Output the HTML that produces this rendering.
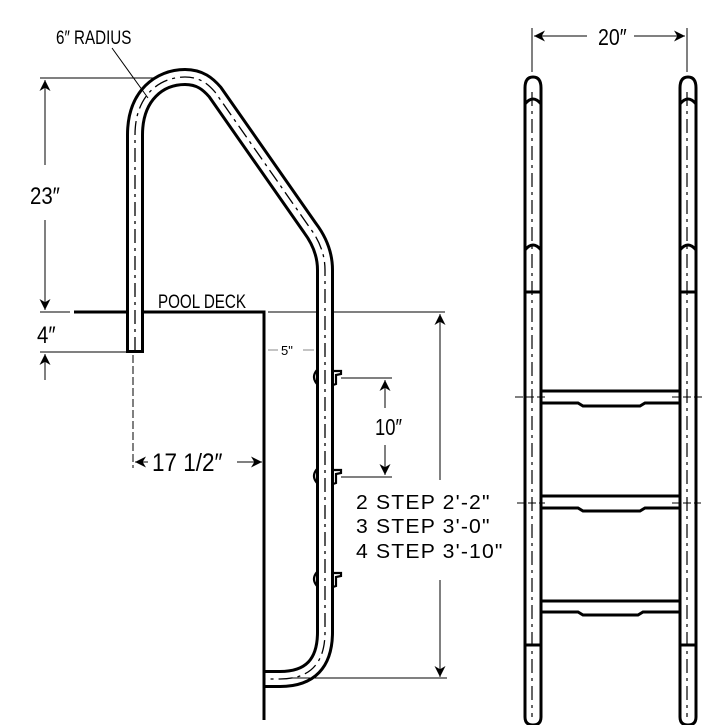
<!DOCTYPE html>
<html><head><meta charset="utf-8"><style>
html,body{margin:0;padding:0;background:#fff;}
svg{display:block;}
.t{font-family:"Liberation Sans",sans-serif;fill:#000;}
</style></head><body>
<svg width="720" height="725" viewBox="0 0 720 725" xmlns="http://www.w3.org/2000/svg">
<defs>
<marker id="a" viewBox="0 0 10 10" refX="10" refY="5" markerWidth="11" markerHeight="11" markerUnits="userSpaceOnUse" orient="auto-start-reverse">
<path d="M0,0 L10,5 L0,10 L3,5 z" fill="#000"/></marker>
</defs>
<g fill="none" stroke="#000">
<path d="M74,312 L264,312 L264,720" stroke-width="3"/>
<line x1="268" y1="312" x2="445" y2="312" stroke-width="1"/>
<path d="M135,351 L135,135 C135,95 160,77 185,77 C200,77 208,84 215,92 L310,228 Q325,248 325,270 L325,632 Q325,679 280,679 L265,679" stroke-width="18" stroke-linejoin="round"/>
<path d="M135,351 L135,135 C135,95 160,77 185,77 C200,77 208,84 215,92 L310,228 Q325,248 325,270 L325,632 Q325,679 280,679 L265,679" stroke="#fff" stroke-width="12" stroke-linejoin="round"/>
<path d="M135,351 L135,135 C135,95 160,77 185,77 C200,77 208,84 215,92 L310,228 Q325,248 325,270 L325,632 Q325,679 280,679 L265,679" stroke-width="1.3" stroke-dasharray="14,5,3,5"/>
<line x1="126" y1="351.5" x2="144" y2="351.5" stroke-width="3"/>
<line x1="264" y1="312" x2="264" y2="720" stroke-width="3"/>
<line x1="112" y1="48" x2="148" y2="98" stroke-width="1"/>
<g stroke-width="2.2">
<path d="M317,370 Q311,377 317,384"/><path d="M333,371 L341,371 L341,374 L336,375 L336,384 L333,385"/>
<path d="M317,469 Q311,476 317,483"/><path d="M333,470 L341,470 L341,473 L336,474 L336,483 L333,484"/>
<path d="M317,572 Q311,579 317,586"/><path d="M333,573 L341,573 L341,576 L336,577 L336,586 L333,587"/>
</g>
<g stroke-width="1">
<line x1="40" y1="78" x2="155" y2="78"/>
<line x1="40" y1="312" x2="70" y2="312"/>
<line x1="40" y1="352" x2="128" y2="352"/>
<line x1="45" y1="80" x2="45" y2="165" marker-start="url(#a)"/>
<line x1="45" y1="220" x2="45" y2="310" marker-end="url(#a)"/>
<line x1="45" y1="380" x2="45" y2="354" marker-end="url(#a)"/>
<line x1="133" y1="355" x2="133" y2="468" stroke-dasharray="8,3"/>
<line x1="135" y1="462" x2="148" y2="462" marker-start="url(#a)"/>
<line x1="237" y1="462" x2="262" y2="462" marker-end="url(#a)"/>
<line x1="268" y1="350" x2="278" y2="350" stroke="#888"/>
<line x1="303" y1="350" x2="314" y2="350" stroke="#888"/>
<line x1="341" y1="378" x2="392" y2="378"/>
<line x1="341" y1="477" x2="392" y2="477"/>
<line x1="385" y1="380" x2="385" y2="408" marker-start="url(#a)"/>
<line x1="385" y1="445" x2="385" y2="475" marker-end="url(#a)"/>
<line x1="440" y1="314" x2="440" y2="480" marker-start="url(#a)"/>
<line x1="440" y1="580" x2="440" y2="677" marker-end="url(#a)"/>
<line x1="290" y1="678" x2="447" y2="678"/>
<line x1="532" y1="28" x2="532" y2="72"/>
<line x1="687" y1="28" x2="687" y2="72"/>
<line x1="534" y1="36" x2="587" y2="36" marker-start="url(#a)"/>
<line x1="634" y1="36" x2="685" y2="36" marker-end="url(#a)"/>
</g>
<g stroke-width="3">
<path d="M525,717 L525,88 Q525,77 533,77 Q541,77 541,88 L541,717 Q541,725 533,725 Q525,725 525,717 Z"/>
<path d="M680,717 L680,88 Q680,77 688,77 Q696,77 696,88 L696,717 Q696,725 688,725 Q680,725 680,717 Z"/>
<path d="M525,104 Q533,94 541,104 M525,250 Q533,240 541,250 M525,292 L541,292 M525,645 L541,645"/>
<path d="M680,104 Q688,94 696,104 M680,250 Q688,240 696,250 M680,292 L696,292 M680,645 L696,645"/>
<path d="M541,391 L680,391 M541,403 L578,403 L583,406 L640,406 L645,403 L680,403"/>
<path d="M541,496 L680,496 M541,508 L578,508 L583,511 L640,511 L645,508 L680,508"/>
<path d="M541,601 L680,601 M541,612 L578,612 L583,615 L638,615 L643,612 L680,612"/>
</g>
<g stroke-width="1.2" stroke-dasharray="14,5,3,5">
<line x1="532" y1="92" x2="532" y2="717"/>
<line x1="687" y1="92" x2="687" y2="717"/>
</g>
<g stroke-width="1" stroke-dasharray="8,3">
<line x1="515" y1="397" x2="545" y2="397"/><line x1="672" y1="397" x2="703" y2="397"/>
<line x1="517" y1="503" x2="545" y2="503"/><line x1="672" y1="503" x2="701" y2="503"/>
</g>
</g>
<g class="t">
<text x="56" y="44" font-size="19" transform="scale(0.8,1)" transform-origin="56 44">6″ RADIUS</text>
<text x="158" y="308" font-size="19" transform="scale(0.8,1)" transform-origin="158 308">POOL DECK</text>
<text x="30" y="204" font-size="24" transform="scale(0.85,1)" transform-origin="30 204">23″</text>
<text x="37" y="343" font-size="24" transform="scale(0.85,1)" transform-origin="37 343">4″</text>
<text x="152" y="471" font-size="25" transform="scale(0.9,1)" transform-origin="152 471">17 1/2″</text>
<text x="281" y="355" font-size="13">5"</text>
<text x="375" y="435" font-size="23" transform="scale(0.8,1)" transform-origin="375 435">10″</text>
<text x="598" y="45" font-size="23" transform="scale(0.85,1)" transform-origin="598 45">20″</text>
<text x="356" y="509" font-size="20" letter-spacing="1.1" transform="scale(1.06,1)" transform-origin="356 509">2 STEP 2'-2"</text>
<text x="356" y="533" font-size="20" letter-spacing="1.1" transform="scale(1.06,1)" transform-origin="356 533">3 STEP 3'-0"</text>
<text x="356" y="558" font-size="20" letter-spacing="1.1" transform="scale(1.06,1)" transform-origin="356 558">4 STEP 3'-10"</text>
</g>
</svg>
</body></html>
